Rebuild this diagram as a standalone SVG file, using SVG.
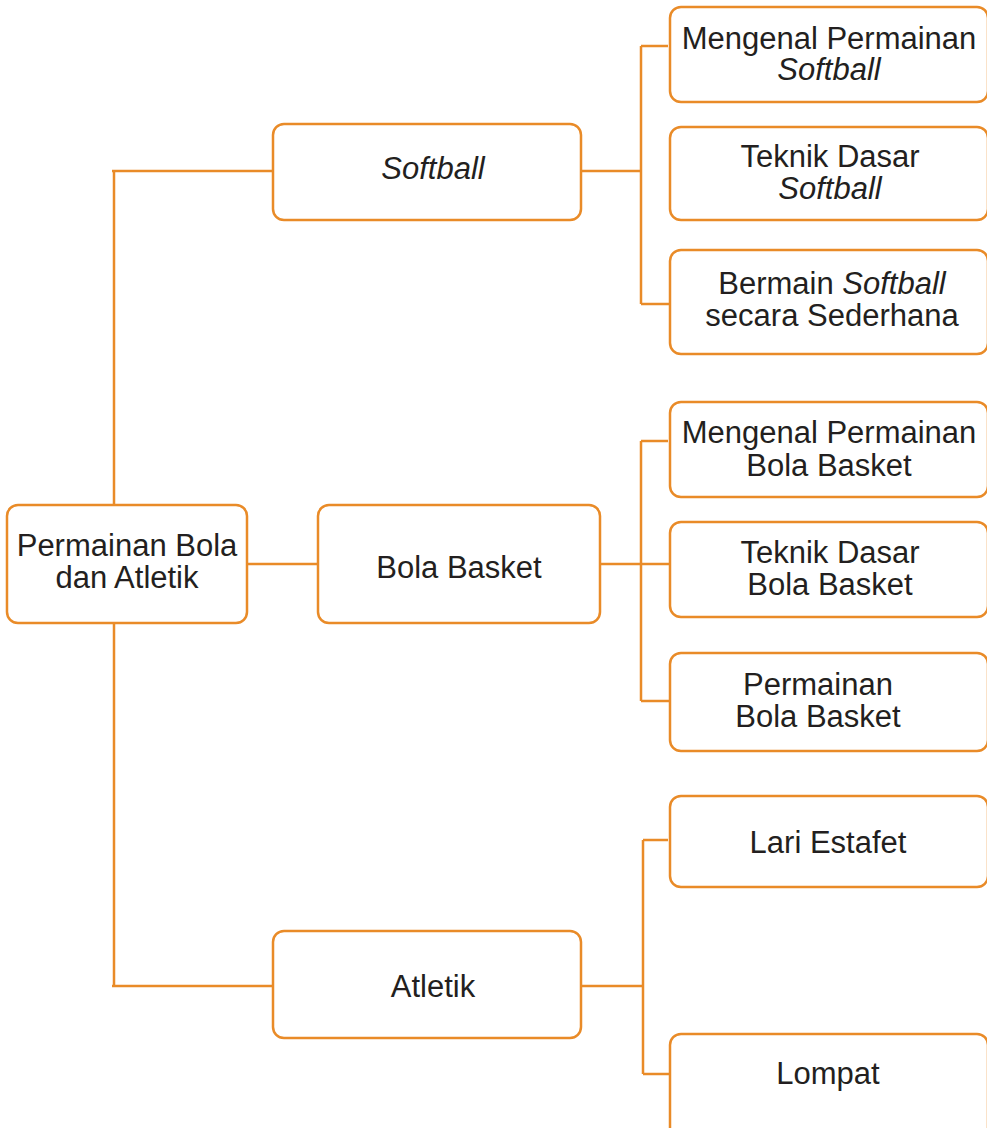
<svg xmlns="http://www.w3.org/2000/svg" width="987" height="1128" viewBox="0 0 987 1128">
<style>
.box{fill:#fff;stroke:#E98B28;stroke-width:2.5}
.ln{fill:none;stroke:#E98B28;stroke-width:2.5}
text{font-family:"Liberation Sans",Arial,sans-serif;font-size:31px;fill:#231f20;text-anchor:middle}
.i{font-style:italic}
</style>
<rect width="987" height="1128" fill="#fff"/>
<g id="connectors">
<path class="ln" d="M114 170V505M114 623V987M112 171H273M112 986H273M247 564H318"/>
<path class="ln" d="M581 171H641M641 46V304M641 46H668M641 304H670"/>
<path class="ln" d="M600 564H670M641 441V701M641 441H668M641 701H670"/>
<path class="ln" d="M581 986H643M643 840V1074M643 840H668M643 1074H670"/>
</g>
<g id="root"><rect class="box" x="7" y="505" width="240" height="118" rx="11"/><text x="127" y="556">Permainan Bola</text><text x="127" y="588">dan Atletik</text></g>
<g id="softball"><rect class="box" x="273" y="124" width="308" height="96" rx="11"/><text x="433" y="179" class="i">Softball</text></g>
<g id="bolabasket"><rect class="box" x="318" y="505" width="282" height="118" rx="11"/><text x="459" y="578">Bola Basket</text></g>
<g id="atletik"><rect class="box" x="273" y="931" width="308" height="107" rx="11"/><text x="433" y="997">Atletik</text></g>
<g id="sb1"><rect class="box" x="670" y="7" width="318" height="95" rx="11"/><text x="829" y="49">Mengenal Permainan</text><text x="829" y="80" class="i">Softball</text></g>
<g id="sb2"><rect class="box" x="670" y="127" width="318" height="93" rx="11"/><text x="830" y="167">Teknik Dasar</text><text x="830" y="199" class="i">Softball</text></g>
<g id="sb3"><rect class="box" x="670" y="250" width="318" height="104" rx="11"/><text x="832" y="294">Bermain <tspan class="i">Softball</tspan></text><text x="832" y="326">secara Sederhana</text></g>
<g id="bb1"><rect class="box" x="670" y="402" width="318" height="95" rx="11"/><text x="829" y="443">Mengenal Permainan</text><text x="829" y="476">Bola Basket</text></g>
<g id="bb2"><rect class="box" x="670" y="522" width="318" height="95" rx="11"/><text x="830" y="563">Teknik Dasar</text><text x="830" y="595">Bola Basket</text></g>
<g id="bb3"><rect class="box" x="670" y="653" width="318" height="98" rx="11"/><text x="818" y="695">Permainan</text><text x="818" y="727">Bola Basket</text></g>
<g id="at1"><rect class="box" x="670" y="796" width="318" height="91" rx="11"/><text x="828" y="853">Lari Estafet</text></g>
<g id="at2"><rect class="box" x="670" y="1034" width="318" height="110" rx="11"/><text x="828" y="1084">Lompat</text></g>
</svg>
